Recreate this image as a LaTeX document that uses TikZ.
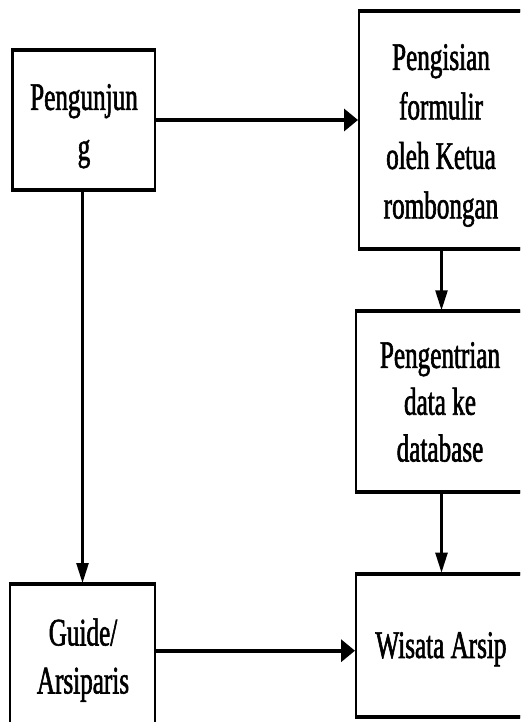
\documentclass[tikz,border=0pt]{standalone}
\usepackage{fontspec}
\setmainfont{Liberation Serif}[FakeStretch=0.645,FakeBold=1.5]
\usetikzlibrary{arrows.meta,calc}
\tikzset{
  box/.style={draw, line width=2.5pt, outer sep=0pt, inner sep=0pt, rectangle},
  hedge/.style={line width=4pt, shorten <=-1.25pt, shorten >=-1.25pt},
  txt/.style={align=center, inner sep=0pt, font=\fontsize{39}{49}\selectfont},
  harrow/.style={line width=3.8pt, -{Triangle[length=14pt,width=22pt]}, shorten >=1pt},
  varrow/.style={line width=2.5pt, -{Triangle[length=20pt,width=12pt]}, shorten >=1pt},
}
\begin{document}
\begin{tikzpicture}[x=1pt,y=-1pt]
\fill[white] (0,0) rectangle (520,722);
\useasboundingbox (0,0) rectangle (520,722);
\clip (0,0) rectangle (520,722);
% boxes
\node[box, minimum width=142.5pt, minimum height=140.5pt] (peng) at (83.75,120) {};
\node[box, minimum width=176pt, minimum height=238pt] (isi) at (447,129.6) {};
\node[box, minimum width=178pt, minimum height=180.4pt] (entri) at (445,401.5) {};
\node[box, minimum width=178pt, minimum height=143pt] (wis) at (445,645.2) {};
\node[box, minimum width=144.6pt, minimum height=142pt] (guide) at (82.5,655) {};
\foreach \nm in {peng,isi,entri,wis,guide}{
  \draw[hedge] (\nm.north west) -- (\nm.north east);
  \draw[hedge] (\nm.south west) -- (\nm.south east);
}
% texts
\node[txt, font=\fontsize{39}{50}\selectfont] (peng-t) at (84,126.2) {Pengunjun\\g};
\node[txt, font=\fontsize{39}{49.5}\selectfont] (isi-t) at (441,135.5) {Pengisian\\formulir\\oleh Ketua\\rombongan};
\node[txt, font=\fontsize{39}{46.8}\selectfont] (entri-t) at (440,402) {Pengentrian\\data ke\\database};
\node[txt] (wis-t) at (441,649.2) {Wisata Arsip};
\node[txt, font=\fontsize{39}{48}\selectfont] (guide-t) at (83,660.1) {Guide/\\Arsiparis};
% connectors
\coordinate (lvl) at (0,650.7);
\coordinate (col) at (441.5,0);
\draw[harrow] (peng.east) -- (peng.east -| isi.west);
\draw[varrow] (isi.south -| col) -- (entri.north -| col);
\draw[varrow] (entri.south -| col) -- (wis.north -| col);
\draw[varrow] (peng.south -| guide.north) -- (guide.north);
\draw[harrow] (guide.east |- lvl) -- (wis.west |- lvl);
\end{tikzpicture}
\end{document}
